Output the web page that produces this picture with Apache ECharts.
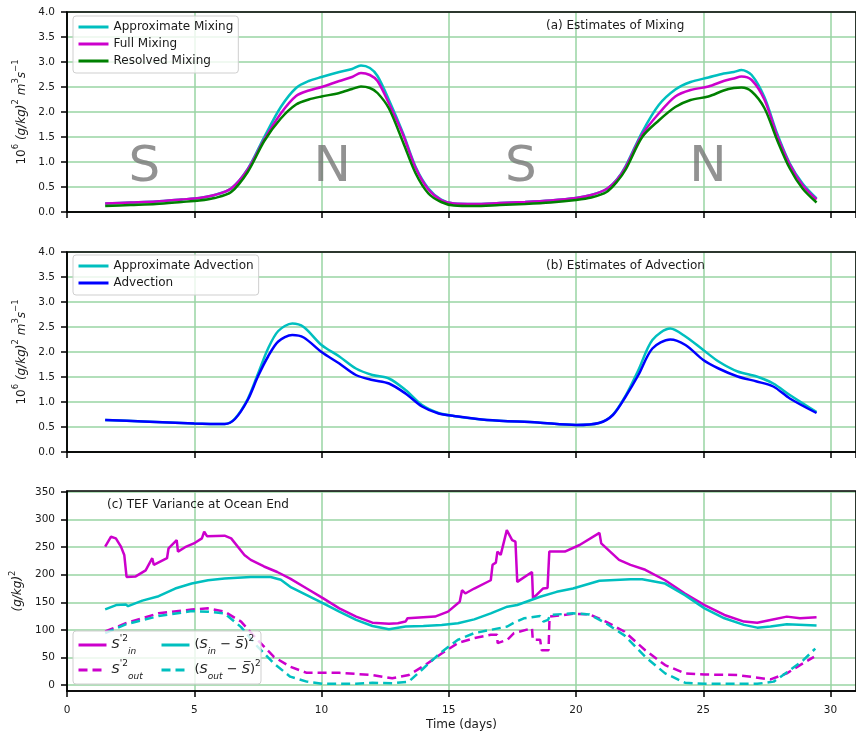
<!DOCTYPE html>
<html><head><meta charset="utf-8">
<script src="https://cdn.jsdelivr.net/npm/echarts@6/dist/echarts.min.js"></script>
<style>html,body{margin:0;padding:0;background:#fff}#c{width:856px;height:732px}</style>
</head><body><div id="c"></div>
<script>
// ---------- data ----------
const mixDays = [1.5,2.5,3.5,4.5,5.2,5.8,6.45,7.1,7.75,8.4,9.0,9.5,10.0,10.7,11.2,11.55,11.9,12.2,12.65,13.2,13.7,14.2,14.7,15.2,16,17,18,19,20,20.6,21.2,21.6,21.95,22.6,23.25,23.9,24.5,25.2,25.8,26.2,26.5,26.9,27.4,27.9,28.4,28.9,29.45];
const approxMixing = [0.17,0.19,0.21,0.25,0.28,0.34,0.47,0.86,1.50,2.10,2.48,2.62,2.70,2.80,2.86,2.93,2.88,2.72,2.24,1.58,0.90,0.47,0.25,0.17,0.16,0.18,0.20,0.23,0.28,0.34,0.46,0.65,0.92,1.60,2.14,2.45,2.60,2.69,2.77,2.80,2.84,2.74,2.30,1.57,0.97,0.57,0.27];
const fullMixing = [0.17,0.19,0.21,0.25,0.28,0.34,0.47,0.85,1.45,1.97,2.32,2.43,2.50,2.62,2.70,2.78,2.74,2.62,2.17,1.55,0.88,0.45,0.24,0.17,0.16,0.18,0.20,0.23,0.28,0.34,0.46,0.64,0.90,1.55,1.97,2.31,2.44,2.51,2.62,2.67,2.71,2.64,2.25,1.53,0.95,0.54,0.25];
const resolvedMixing = [0.12,0.14,0.16,0.20,0.23,0.28,0.40,0.80,1.42,1.87,2.15,2.25,2.31,2.38,2.46,2.51,2.48,2.38,2.07,1.40,0.77,0.37,0.20,0.13,0.12,0.14,0.16,0.19,0.24,0.29,0.40,0.60,0.85,1.50,1.83,2.10,2.24,2.31,2.43,2.48,2.49,2.41,2.08,1.44,0.87,0.47,0.19];

const advDays = [1.5,3,5,6.2,6.6,7.1,7.5,7.9,8.3,8.85,9.3,10,10.7,11.35,12,12.65,13.3,13.95,14.6,15.2,16.5,18.5,20,20.9,21.45,21.95,22.45,23,23.7,24.3,25,25.6,26.35,27.1,27.75,28.4,29.45];
const approxAdvection = [0.64,0.61,0.57,0.56,0.67,1.06,1.56,2.07,2.42,2.57,2.50,2.14,1.91,1.67,1.54,1.47,1.24,0.94,0.78,0.72,0.64,0.59,0.54,0.58,0.75,1.13,1.64,2.24,2.47,2.31,2.04,1.81,1.61,1.51,1.37,1.14,0.80];
const advection = [0.64,0.61,0.57,0.56,0.66,1.04,1.51,1.91,2.21,2.34,2.29,2.00,1.77,1.54,1.44,1.37,1.17,0.91,0.77,0.72,0.64,0.59,0.54,0.58,0.74,1.11,1.54,2.07,2.25,2.14,1.84,1.67,1.51,1.41,1.31,1.07,0.78];

const sInPrime2 = [[1.5,251],[1.73,269],[1.92,266],[2.12,251],[2.25,236],[2.31,233],[2.34,196],[2.7,197],[3.09,208],[3.35,230],[3.41,218],[3.93,230],[3.99,248],[4.31,263],[4.36,242],[4.64,250],[5.03,258],[5.3,266],[5.39,278],[5.5,270],[6.19,271],[6.45,266],[6.97,236],[7.22,227],[7.74,215],[8.26,205],[8.77,193],[9.42,175],[10.07,157],[10.7,139],[11.36,124],[12.0,113],[12.65,111],[13.0,112],[13.3,115],[13.38,121],[14.46,124],[14.97,133],[15.43,151],[15.52,172],[15.65,166],[16.0,175],[16.65,190],[16.72,218],[16.85,222],[16.91,242],[17.04,236],[17.28,281],[17.49,263],[17.62,260],[17.69,187],[18.27,205],[18.31,157],[18.7,175],[18.88,176],[18.95,242],[19.56,242],[20.14,254],[20.92,276],[20.99,257],[21.69,227],[22.14,218],[22.72,209],[23.5,190],[24.28,166],[25.05,145],[25.83,127],[26.6,115],[27.12,113],[27.64,118],[28.28,124],[28.8,121],[29.45,123]];
const sOutPrime2 = [[1.5,97],[2.31,112],[3.6,130],[4.9,137],[5.54,139],[6.19,133],[6.84,115],[7.48,82],[8.13,51],[8.77,33],[9.42,22],[10.7,22],[12.0,18],[12.78,12],[13.43,18],[14.07,36],[14.72,57],[15.36,76],[16.0,85],[16.65,91],[16.9,91],[16.92,76],[17.3,82],[17.56,94],[18.27,103],[18.3,82],[18.59,82],[18.65,63],[18.92,63],[18.96,124],[19.88,129],[20.53,128],[21.17,115],[21.9,97],[22.72,63],[23.5,36],[24.28,21],[25.05,19],[26.34,18],[27.64,10],[28.28,21],[28.8,36],[29.35,51]];
const sInDev2 = [[1.5,137],[1.93,145],[2.31,146],[2.4,143],[2.96,153],[3.6,161],[4.25,175],[4.9,184],[5.54,190],[6.19,193],[7.22,196],[8.0,196],[8.4,191],[8.77,178],[9.42,163],[10.07,148],[10.7,133],[11.36,118],[12.0,107],[12.65,101],[13.3,106],[14.0,107],[14.72,109],[15.36,112],[16.0,119],[16.65,130],[17.3,142],[17.69,145],[18.59,160],[19.24,169],[19.88,175],[20.92,189],[22.14,192],[22.6,192],[23.5,184],[24.28,163],[25.05,139],[25.83,121],[26.6,109],[27.12,104],[27.64,106],[28.28,110],[29.45,108]];
const sOutDev2 = [[1.5,94],[2.31,110],[3.6,125],[4.9,134],[5.54,133],[6.19,130],[6.84,105],[7.48,70],[8.13,39],[8.77,15],[9.42,6],[10.07,2],[11.36,2],[12.0,4],[12.78,3],[13.43,6],[14.07,33],[14.72,60],[15.36,82],[16.0,94],[16.65,100],[17.3,106],[17.56,113],[17.95,121],[18.59,125],[18.72,115],[18.9,118],[18.98,127],[19.88,130],[20.53,128],[21.17,112],[21.9,90],[22.72,51],[23.5,21],[24.28,4],[25.05,2],[27.12,2],[27.77,6],[28.41,27],[28.93,45],[29.4,66]];

const varianceTicks = [0,50,100,150,200,250,300,350];
const letterDays = [3.04,10.42,17.83,25.18];
const letterNames = ['S','N','S','N'];
const letterLevel = 0.87;

// ---------- styling ----------
const FONT = 'DejaVu Sans';
const TXT = '#1a1a1a';
const GRIDC = '#98d4a3';
const C_CYAN = '#00bfbf', C_MAG = '#cc00cc', C_GREEN = '#008000', C_BLUE = '#0000ff';
const LW = 2.5;

const gridDefs = [
  {left:67, top:12, width:800, height:200},
  {left:67, top:252, width:800, height:200},
  {left:67, top:491, width:800, height:200}
];
const grids = gridDefs.map(g => Object.assign({show:true, z:10, backgroundColor:'transparent', borderColor:'#000', borderWidth:1.5}, g));

function xAxisFor(gi, labels) {
  const a = {
    type:'value', gridIndex:gi, min:0, max:31, interval:5,
    axisLine:{show:true, onZero:false, lineStyle:{color:'#000', width:1.5}},
    axisTick:{show:true, inside:false, length:6, lineStyle:{color:'#000', width:1.5}},
    axisLabel:{show:labels, fontSize:10.5, color:TXT, margin:14, fontFamily:FONT, showMaxLabel:false},
    splitLine:{show:true, lineStyle:{color:GRIDC, width:1.5}}
  };
  if (labels) {
    a.name = 'Time (days)'; a.nameLocation = 'middle'; a.nameGap = 28;
    a.nameTextStyle = {fontSize:12, color:TXT, fontFamily:FONT};
  }
  return a;
}
const richName = {
  b:{fontSize:12, fontFamily:FONT, color:TXT, lineHeight:20},
  i:{fontSize:12, fontFamily:FONT, color:TXT, fontStyle:'italic', lineHeight:20},
  sup:{fontSize:8.5, fontFamily:FONT, color:TXT, lineHeight:9, verticalAlign:'top'}
};
const fluxName = '{b|10}{sup|6}{b| }{i|(g/kg)}{sup|2}{b| }{i|m}{sup|3}{i|s}{sup|\u22121}';
function yAxisFlux(gi) {
  return {
    type:'value', gridIndex:gi, min:0, max:4, interval:0.5,
    axisLine:{show:true, onZero:false, lineStyle:{color:'#000', width:1.5}},
    axisTick:{show:true, length:6, lineStyle:{color:'#000', width:1.5}},
    axisLabel:{fontSize:10.5, color:TXT, margin:12, fontFamily:FONT, formatter:v => v.toFixed(1)},
    splitLine:{show:true, lineStyle:{color:GRIDC, width:1.5}},
    name:fluxName, nameLocation:'middle', nameGap:32,
    nameTextStyle:{fontSize:12, color:TXT, fontFamily:FONT, rich:richName}
  };
}
const yVar = {
  type:'value', gridIndex:2, min:-11, max:352, splitNumber:7,
  axisLine:{show:true, onZero:false, lineStyle:{color:'#000', width:1.5}},
  axisTick:{show:true, length:6, lineStyle:{color:'#000', width:1.5}, customValues:varianceTicks},
  axisLabel:{fontSize:10.5, color:TXT, margin:12, fontFamily:FONT, customValues:varianceTicks,
    formatter:v => (Math.abs(v % 50) < 1e-6 ? String(v) : '')},
  splitLine:{show:true, lineStyle:{color:GRIDC, width:1.5}},
  name:'{i|(g/kg)}{sup|2}', nameLocation:'middle', nameGap:32,
  nameTextStyle:{fontSize:12, color:TXT, fontFamily:FONT, rich:richName}
};

function pairs(xs, ys) { return xs.map((x, i) => [x, ys[i]]); }
function line(name, gi, data, color, dashed, smooth) {
  return {
    name, type:'line', xAxisIndex:gi, yAxisIndex:gi, data, showSymbol:false, symbol:'none',
    smooth: smooth ? 0.3 : false, color,
    lineStyle:{color, width:LW, type: dashed ? [9,5] : 'solid'},
    z:2, silent:true
  };
}

const N_SIN = 'Sin2', N_SOUT = 'Sout2', N_DIN = 'Din2', N_DOUT = 'Dout2';
const richLeg = {
  n:{fontSize:13, fontFamily:FONT, color:TXT, lineHeight:22},
  i:{fontSize:13, fontFamily:FONT, color:TXT, fontStyle:'italic', lineHeight:22},
  sup:{fontSize:9, fontFamily:FONT, color:TXT, lineHeight:10, verticalAlign:'top'},
  sub:{fontSize:9, fontFamily:FONT, color:TXT, fontStyle:'italic', lineHeight:10, verticalAlign:'bottom'}
};
const legLabels = {};
legLabels[N_SIN] = "{i|S}{sup|'2}{sub|in}";
legLabels[N_SOUT] = "{i|S}{sup|'2}{sub|out}";
legLabels[N_DIN] = '{n|(}{i|S}{sub|in}{n| \u2212 }{i|S\u0305}{n|)}{sup|2}';
legLabels[N_DOUT] = '{n|(}{i|S}{sub|out}{n| \u2212 }{i|S\u0305}{n|)}{sup|2}';

const legBase = {orient:'vertical', selectedMode:false, itemWidth:30, itemHeight:14, itemGap:5,
  backgroundColor:'rgba(255,255,255,0.8)', borderColor:'#cfcfcf', borderWidth:1, borderRadius:3,
  itemStyle:{opacity:0, borderWidth:0},
  lineStyle:{width:3},
  textStyle:{fontSize:12, color:TXT, fontFamily:FONT}, z:4};

const letterSeries = {
  type:'scatter', xAxisIndex:0, yAxisIndex:0, silent:true, z:1,
  symbol:'circle', symbolSize:1, itemStyle:{color:'rgba(0,0,0,0)'},
  data: letterDays.map((d, i) => ({value:[d, letterLevel], name:letterNames[i]})),
  label:{show:true, position:'inside', formatter:p => p.name, fontSize:50, color:'#777', fontFamily:FONT}
};

const option = {
  animation:false,
  backgroundColor:'#fff',
  grid: grids,
  xAxis:[xAxisFor(0,false), xAxisFor(1,false), xAxisFor(2,true)],
  yAxis:[yAxisFlux(0), yAxisFlux(1), yVar],
  title:[
    {text:'(a) Estimates of Mixing', left:546, top:20, padding:0, textStyle:{fontSize:12, fontWeight:'normal', color:TXT, fontFamily:FONT}},
    {text:'(b) Estimates of Advection', left:546, top:260, padding:0, textStyle:{fontSize:12, fontWeight:'normal', color:TXT, fontFamily:FONT}},
    {text:'(c) TEF Variance at Ocean End', left:107, top:499, padding:0, textStyle:{fontSize:12, fontWeight:'normal', color:TXT, fontFamily:FONT}}
  ],
  legend:[
    Object.assign({}, legBase, {data:['Approximate Mixing','Full Mixing','Resolved Mixing'], left:73, top:16, padding:[5,5,6,4]}),
    Object.assign({}, legBase, {data:['Approximate Advection','Advection'], left:73, top:255, padding:[5,5,6,4]}),
    Object.assign({}, legBase, {data:[N_SIN, N_SOUT], left:77, top:634, padding:0, itemWidth:28, itemGap:3,
      backgroundColor:'transparent', borderWidth:0, formatter:n => legLabels[n], textStyle:{fontSize:13, color:TXT, fontFamily:FONT, rich:richLeg}}),
    Object.assign({}, legBase, {data:[N_DIN, N_DOUT], left:160, top:634, padding:0, itemWidth:28, itemGap:3,
      backgroundColor:'transparent', borderWidth:0, formatter:n => legLabels[n], textStyle:{fontSize:13, color:TXT, fontFamily:FONT, rich:richLeg}})
  ],
  graphic:{elements:[
    {type:'rect', shape:{x:73, y:631, width:188, height:53, r:3}, style:{fill:'rgba(255,255,255,0.8)', stroke:'#cfcfcf', lineWidth:1}, z:3, silent:true}
  ]},
  series:[
    letterSeries,
    line('Approximate Mixing', 0, pairs(mixDays, approxMixing), C_CYAN, false, true),
    line('Full Mixing', 0, pairs(mixDays, fullMixing), C_MAG, false, true),
    line('Resolved Mixing', 0, pairs(mixDays, resolvedMixing), C_GREEN, false, true),
    line('Approximate Advection', 1, pairs(advDays, approxAdvection), C_CYAN, false, true),
    line('Advection', 1, pairs(advDays, advection), C_BLUE, false, true),
    line(N_SIN, 2, sInPrime2, C_MAG, false, false),
    line(N_SOUT, 2, sOutPrime2, C_MAG, true, false),
    line(N_DIN, 2, sInDev2, C_CYAN, false, false),
    line(N_DOUT, 2, sOutDev2, C_CYAN, true, false)
  ]
};
const chart = echarts.init(document.getElementById('c'), null, {renderer:'canvas'});
chart.setOption(option);
</script>
</body></html>
